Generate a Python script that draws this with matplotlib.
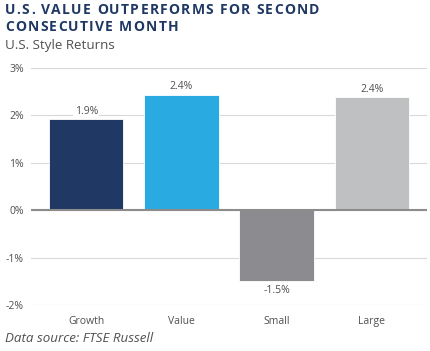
import matplotlib
matplotlib.use("Agg")
import matplotlib.pyplot as plt

categories = ["Growth", "Value", "Small", "Large"]
values = [1.92, 2.44, -1.5, 2.38]
labels = ["1.9%", "2.4%", "-1.5%", "2.4%"]
colors = ["#1F3864", "#29ABE2", "#8C8C90", "#BFC0C2"]
yticks = [-2, -1, 0, 1, 2, 3]
ytick_labels = ["-2%", "-1%", "0%", "1%", "2%", "3%"]
title_lines = ["U.S. VALUE OUTPERFORMS FOR SECOND", "CONSECUTIVE MONTH"]

W, H = 430, 351
fig = plt.figure(figsize=(W/100, H/100), dpi=100)
plt.rcParams['font.family'] = ['Open Sans', 'DejaVu Sans']
txt_color = "#505050"

ax = fig.add_axes([31/W, 1-305/H, (427-31)/W, (305-68)/H])
ax.set_ylim(-2, 3)
ax.set_xlim(-0.58, 3.58)
ax.set_yticks(yticks)
ax.set_yticklabels(ytick_labels, fontsize=7.5, color=txt_color)
ax.tick_params(axis='y', length=0, pad=5)
ax.tick_params(axis='x', length=0, pad=8)
ax.set_xticks(range(len(categories)))
ax.set_xticklabels(categories, fontsize=7.5, color=txt_color)
for s in ax.spines.values():
    s.set_visible(False)
ax.yaxis.grid(True, color="#D9D9D9", linewidth=0.8)
ax.set_axisbelow(True)
ax.axhline(0, color="#8C8C8C", linewidth=1.5, zorder=3)

ax.bar(range(len(categories)), values, width=0.78, color=colors,
       edgecolor="white", linewidth=0.6, zorder=2)
for i, (v, lab) in enumerate(zip(values, labels)):
    if v >= 0:
        ax.text(i, v + 0.05, lab, ha='center', va='bottom', fontsize=7.5, color=txt_color,
                bbox=dict(facecolor='white', edgecolor='none', pad=1))
    else:
        ax.text(i, v - 0.07, lab, ha='center', va='top', fontsize=7.5, color=txt_color,
                bbox=dict(facecolor='white', edgecolor='none', pad=1))

# letter-spaced title
renderer = fig.canvas.get_renderer()
def char_width(c, **kw):
    t1 = fig.text(0, 0, "H" + c + "H", **kw)
    t2 = fig.text(0, 0, "HH", **kw)
    w = t1.get_window_extent(renderer).width - t2.get_window_extent(renderer).width
    t1.remove(); t2.remove()
    return w

tkw = dict(fontsize=10, fontweight='bold', color="#1F3864")
tracking = 1.3
ytops = [3, 20]
for line, ytop in zip(title_lines, ytops):
    x = 5.0
    for c in line:
        if c != " ":
            fig.text(x/W, 1-ytop/H, c, ha='left', va='top', **tkw)
        x += char_width(c, **tkw) + tracking

fig.text(5/W, 1-39/H, "U.S. Style Returns", ha='left', va='top', fontsize=9.6, color=txt_color)
fig.text(5/W, 1-332/H, "Data source: FTSE Russell", ha='left', va='top', fontsize=9.6,
         style='italic', color=txt_color)

fig.savefig("out.png", dpi=100)
